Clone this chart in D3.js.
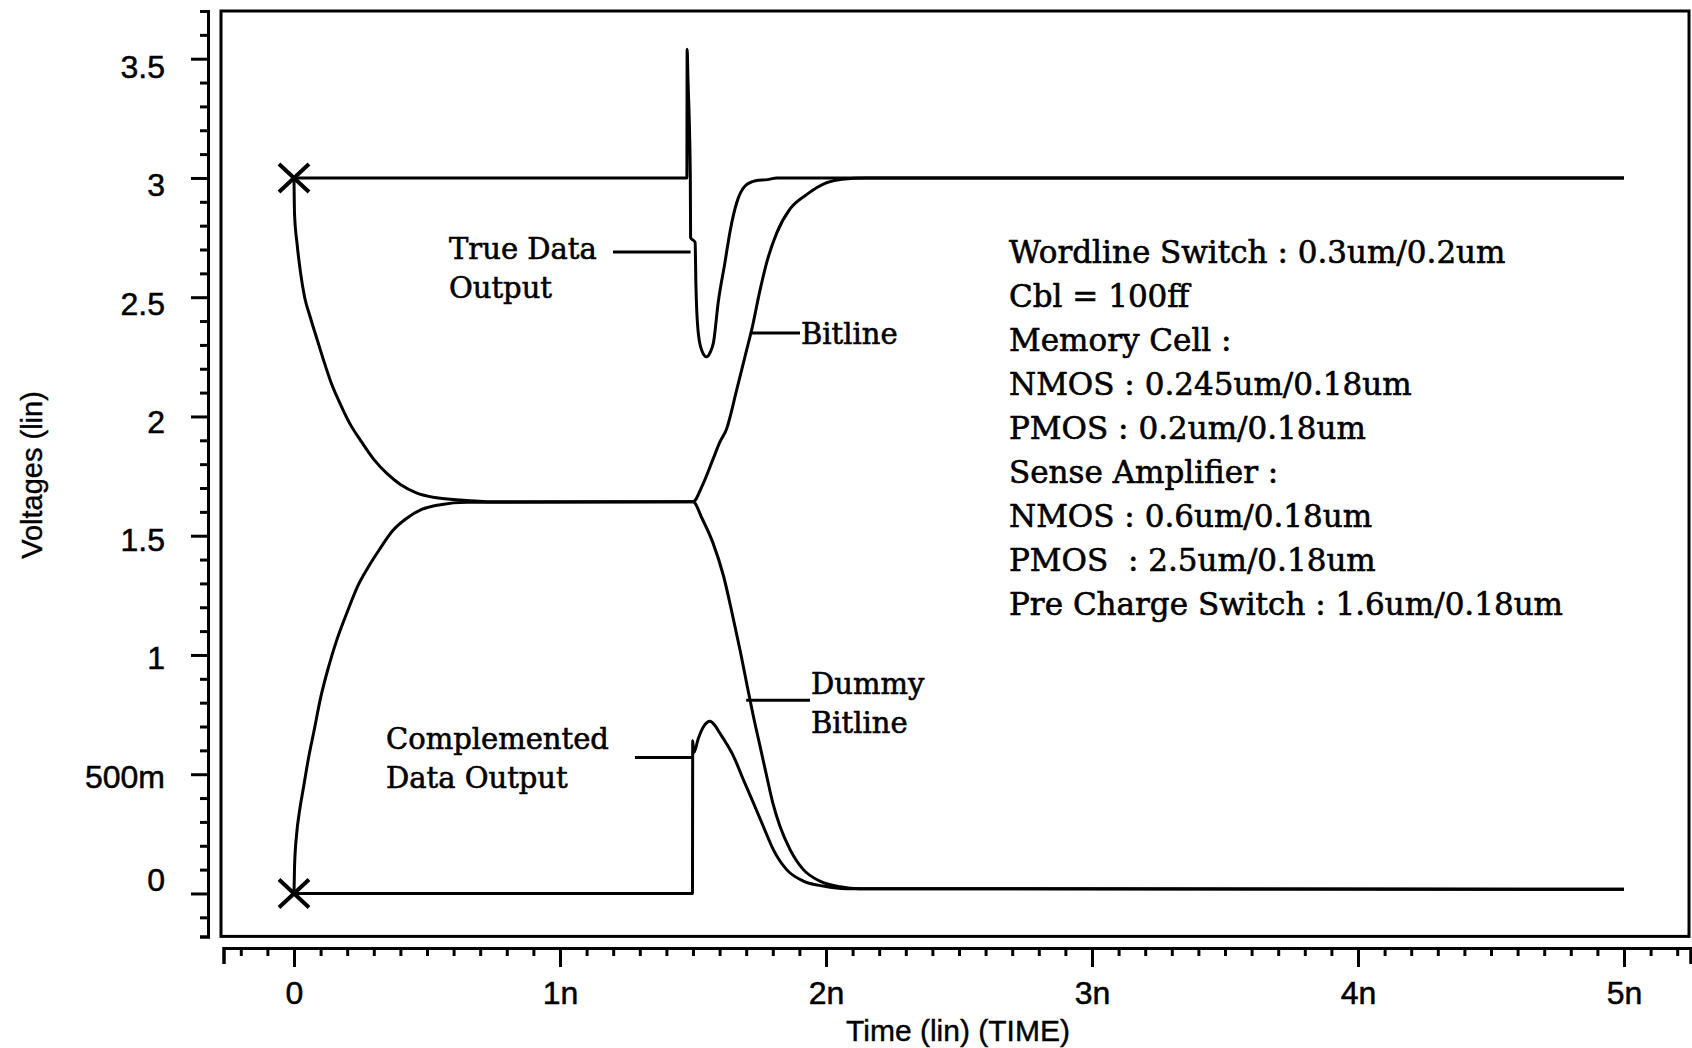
<!DOCTYPE html>
<html>
<head>
<meta charset="utf-8">
<script src="https://cdn.jsdelivr.net/npm/d3@7"></script>
<style>
  html, body { margin: 0; padding: 0; background: #fff; }
  svg { display: block; }
</style>
</head>
<body>
<svg id="chart" width="1692" height="1048"></svg>
<script>
// Transient simulation of an SRAM read: time in ns, voltage in V.

// True Data Output
const trueDataT = [0, 1.477, 1.478, 1.481, 1.490, 1.491, 1.508, 1.511, 1.519, 1.532, 1.551, 1.565, 1.577, 1.595, 1.620, 1.640, 1.664, 1.695, 1.735, 1.780, 1.815, 5.0];
const trueDataV = [3.0, 3.0, 3.54, 3.42, 3.0, 2.75, 2.73, 2.55, 2.36, 2.28, 2.25, 2.27, 2.31, 2.48, 2.645, 2.78, 2.895, 2.965, 2.988, 2.993, 3.0, 3.0];

// Complemented Data Output
const complDataT = [0, 1.498, 1.499, 1.503, 1.520, 1.540, 1.564, 1.582, 1.600, 1.625, 1.652, 1.689, 1.727, 1.764, 1.802, 1.852, 1.915, 1.990, 2.078, 5.0];
const complDataV = [0, 0, 0.64, 0.59, 0.65, 0.70, 0.722, 0.705, 0.674, 0.63, 0.576, 0.478, 0.38, 0.282, 0.184, 0.10, 0.052, 0.031, 0.02, 0.018];

// Bitline
const bitlineT = [0, 0.002, 0.012, 0.025, 0.040, 0.060, 0.085, 0.110, 0.140, 0.175, 0.210, 0.250, 0.300, 0.350, 0.400, 0.460, 0.530, 0.620, 0.750, 1.500, 1.535, 1.575, 1.600, 1.627, 1.664, 1.702, 1.721, 1.752, 1.777, 1.815, 1.865, 1.927, 2.003, 2.060, 2.150, 5.0];
const bitlineV = [3.0, 2.85, 2.72, 2.60, 2.50, 2.42, 2.33, 2.24, 2.14, 2.05, 1.97, 1.90, 1.82, 1.76, 1.715, 1.68, 1.66, 1.65, 1.642, 1.642, 1.71, 1.82, 1.89, 1.95, 2.11, 2.28, 2.365, 2.53, 2.645, 2.77, 2.87, 2.93, 2.98, 2.995, 3.0, 3.0];

// Dummy Bitline
const dummyT = [0, 0.002, 0.010, 0.020, 0.035, 0.055, 0.075, 0.100, 0.130, 0.160, 0.200, 0.240, 0.280, 0.320, 0.370, 0.420, 0.480, 0.550, 0.650, 1.500, 1.535, 1.575, 1.615, 1.650, 1.677, 1.702, 1.727, 1.752, 1.777, 1.800, 1.827, 1.865, 1.915, 1.977, 2.053, 2.128, 5.0];
const dummyV = [0, 0.11, 0.25, 0.34, 0.44, 0.57, 0.68, 0.82, 0.95, 1.06, 1.18, 1.29, 1.37, 1.44, 1.52, 1.57, 1.61, 1.63, 1.64, 1.642, 1.57, 1.47, 1.33, 1.16, 1.02, 0.88, 0.743, 0.618, 0.492, 0.38, 0.282, 0.184, 0.10, 0.052, 0.028, 0.02, 0.018];

// Start markers (time, voltage)
const markerT = [0, 0];
const markerV = [3.0, 0];

// Axis ticks and labels
const xTickValues = [0, 1, 2, 3, 4, 5];
const xTickLabels = ["0", "1n", "2n", "3n", "4n", "5n"];
const yTickValues = [0, 0.5, 1, 1.5, 2, 2.5, 3, 3.5];
const yTickLabels = ["0", "500m", "1", "1.5", "2", "2.5", "3", "3.5"];
const xTitle = "Time (lin) (TIME)";
const yTitle = "Voltages (lin)";

// Trace labels and the point on each trace their leader line touches
const traceLabelLines = [["True Data", "Output"], ["Bitline"], ["Dummy", "Bitline"], ["Complemented", "Data Output"]];
const leaderT = [1.491, 1.721, 1.700, 1.499];
const leaderV = [2.69, 2.35, 0.81, 0.57];

// Device sizing notes
const specLines = [
  "Wordline Switch : 0.3um/0.2um",
  "Cbl = 100ff",
  "Memory Cell :",
  "NMOS : 0.245um/0.18um",
  "PMOS : 0.2um/0.18um",
  "Sense Amplifier :",
  "NMOS : 0.6um/0.18um",
  "PMOS  : 2.5um/0.18um",
  "Pre Charge Switch : 1.6um/0.18um"
];

const svg = d3.select("#chart");
const ink = "#000";
const sans = "'Liberation Sans', Arial, sans-serif";
const serif = "'DejaVu Serif', 'Liberation Serif', serif";

const x = d3.scaleLinear().domain([-0.265, 5.25]).range([223.5, 1690.5]);
const y = d3.scaleLinear().domain([-0.18, 3.7]).range([936.4, 11]);
// voltage tick labels drift slightly below their ticks toward the top of the axis
const yLabel = d3.scaleLinear().domain([0.5, 3.5]).range([y(0.5) + 2, y(3.5) + 8]);

// plot frame
svg.append("rect")
  .attr("x", x.range()[0] - 2.5).attr("y", y.range()[1])
  .attr("width", x.range()[1] - x.range()[0] + 1).attr("height", y.range()[0] - y.range()[1])
  .attr("fill", "none").attr("stroke", ink).attr("stroke-width", 3);

// voltage axis
const yAxisX = 208;
const yMinor = d3.range(-1, 38).map(i => i / 10).filter(v => !yTickValues.some(t => Math.abs(t - v) < 1e-6));
const gyMinor = svg.append("g").attr("transform", `translate(${yAxisX},0)`)
  .call(d3.axisLeft(y).tickValues(yMinor).tickSize(8).tickSizeOuter(8).tickFormat(""));
const gyMajor = svg.append("g").attr("transform", `translate(${yAxisX},0)`)
  .call(d3.axisLeft(y).tickValues(yTickValues).tickSize(17).tickSizeOuter(8).tickFormat(""));
[gyMinor, gyMajor].forEach(g => {
  g.selectAll("path.domain").attr("stroke", ink).attr("stroke-width", 3);
  g.selectAll(".tick line").attr("stroke", ink).attr("stroke-width", 3);
});
svg.append("g").selectAll("text").data(yTickValues).join("text")
  .attr("x", 165)
  .attr("y", d => d === 0 ? y(0) - 14 : yLabel(d))
  .attr("dy", "0.36em")
  .attr("text-anchor", "end")
  .style("font-family", sans).style("font-size", "32px")
  .attr("fill", ink).attr("stroke", ink).attr("stroke-width", 0.5)
  .text((d, i) => yTickLabels[i]);

// time axis
const xAxisY = 948;
const xMinor = d3.range(-2, 53).map(i => i / 10).filter(v => !xTickValues.some(t => Math.abs(t - v) < 1e-6));
const gxMinor = svg.append("g").attr("transform", `translate(0,${xAxisY})`)
  .call(d3.axisBottom(x).tickValues(xMinor).tickSize(8).tickSizeOuter(16).tickFormat(""));
const gxMajor = svg.append("g").attr("transform", `translate(0,${xAxisY})`)
  .call(d3.axisBottom(x).tickValues(xTickValues).tickSize(19).tickSizeOuter(16).tickFormat((d, i) => xTickLabels[i]));
[gxMinor, gxMajor].forEach(g => {
  g.selectAll("path.domain").attr("stroke", ink).attr("stroke-width", 3);
  g.selectAll(".tick line").attr("stroke", ink).attr("stroke-width", 3);
});
gxMajor.selectAll(".tick text")
  .attr("y", 56).attr("dy", null)
  .style("font-family", sans).style("font-size", "32px")
  .attr("fill", ink).attr("stroke", ink).attr("stroke-width", 0.5);

// axis titles
svg.append("text")
  .attr("transform", `translate(42,475) rotate(-90)`)
  .attr("text-anchor", "middle")
  .style("font-family", sans).style("font-size", "29px")
  .attr("fill", ink).attr("stroke", ink).attr("stroke-width", 0.4)
  .text(yTitle);
svg.append("text")
  .attr("x", 958).attr("y", 1041)
  .attr("text-anchor", "middle")
  .style("font-family", sans).style("font-size", "30px")
  .attr("fill", ink).attr("stroke", ink).attr("stroke-width", 0.4)
  .text(xTitle);

// traces
const line = d3.line().x(d => x(d[0])).y(d => y(d[1])).curve(d3.curveMonotoneX);
const traces = [
  d3.zip(trueDataT, trueDataV),
  d3.zip(complDataT, complDataV),
  d3.zip(bitlineT, bitlineV),
  d3.zip(dummyT, dummyV)
];
svg.append("g").selectAll("path").data(traces).join("path")
  .attr("d", line)
  .attr("fill", "none").attr("stroke", ink).attr("stroke-width", 3)
  .attr("stroke-linejoin", "round");

// start markers
svg.append("g").selectAll("path").data(d3.zip(markerT, markerV)).join("path")
  .attr("d", d => {
    const cx = x(d[0]), cy = y(d[1]);
    return `M${cx - 15},${cy - 14}L${cx + 15},${cy + 14}M${cx - 15},${cy + 14}L${cx + 15},${cy - 14}`;
  })
  .attr("stroke", ink).attr("stroke-width", 4).attr("fill", "none");

// trace labels with leader lines
const labelPos = [
  { x: 449, y: 259, lead: 613 },
  { x: 801, y: 344, lead: 800 },
  { x: 811, y: 694, lead: 810 },
  { x: 386, y: 749, lead: 635 }
];
const gl = svg.append("g");
traceLabelLines.forEach((lines, i) => {
  const p = labelPos[i];
  gl.append("line")
    .attr("x1", p.lead).attr("x2", x(leaderT[i]))
    .attr("y1", y(leaderV[i])).attr("y2", y(leaderV[i]))
    .attr("stroke", ink).attr("stroke-width", 3);
  gl.append("text")
    .attr("x", p.x).attr("y", p.y)
    .style("font-family", serif).style("font-size", "29px")
    .attr("fill", ink).attr("stroke", ink).attr("stroke-width", 0.6)
    .selectAll("tspan").data(lines).join("tspan")
    .attr("x", p.x).attr("dy", (d, j) => j === 0 ? 0 : 39)
    .text(d => d);
});

// device sizing block
svg.append("g").selectAll("text").data(specLines).join("text")
  .attr("x", 1009).attr("y", (d, i) => 263 + i * 44)
  .style("font-family", serif).style("font-size", "31px")
  .style("white-space", "pre")
  .attr("fill", ink).attr("stroke", ink).attr("stroke-width", 0.6)
  .text(d => d);
</script>
</body>
</html>
